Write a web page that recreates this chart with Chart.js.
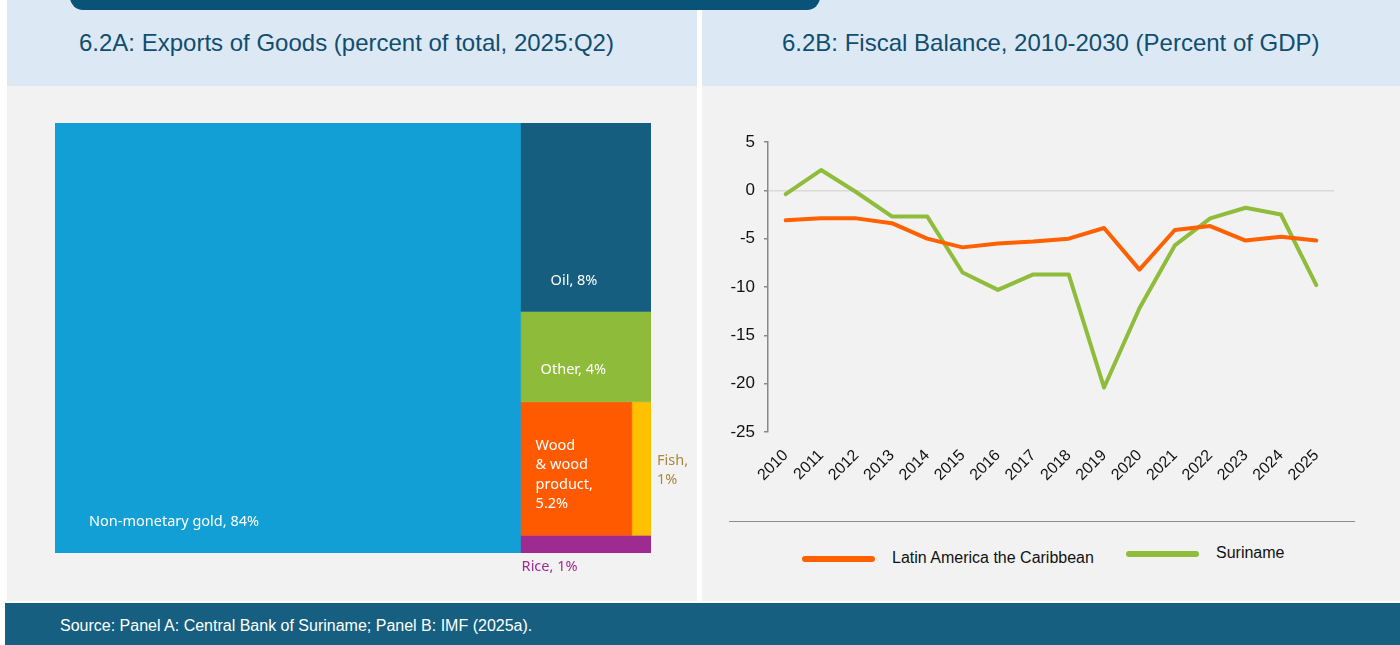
<!DOCTYPE html>
<html>
<head>
<meta charset="utf-8">
<script src="https://cdn.jsdelivr.net/npm/chart.js@4.4.0/dist/chart.umd.min.js"></script>
<style>
  body { margin: 0; width: 1400px; height: 645px; background: #fff; position: relative; overflow: hidden; font-family: "Liberation Sans", Arial, sans-serif; }
  .hdr { position: absolute; top: 0; height: 86px; background: #dce9f5; }
  .panel { position: absolute; top: 86px; height: 515px; background: #f2f2f2; }
  .topbar { position: absolute; left: 70px; top: -16px; width: 750px; height: 26px; background: #0a5378; border-radius: 14px; }
  .title { position: absolute; top: 29px; font-size: 24px; color: #114d6e; white-space: nowrap; }
  .footer { position: absolute; left: 5px; top: 603px; width: 1395px; height: 42px; background: #175f80; }
  .footer span { position: absolute; left: 55px; top: 14px; font-size: 16px; color: #fff; }
  canvas { position: absolute; }
  .rule { position: absolute; left: 729px; top: 521px; width: 626px; height: 1px; background: #8c8c8c; }
  .swatch { position: absolute; height: 6px; border-radius: 3px; }
  .legtext { position: absolute; font-size: 16px; color: #111; white-space: nowrap; }
</style>
</head>
<body>
<div class="hdr" style="left:7px;width:690px"></div>
<div class="hdr" style="left:702px;width:698px"></div>
<div class="topbar"></div>
<div class="title" style="left:79px">6.2A: Exports of Goods (percent of total, 2025:Q2)</div>
<div class="title" style="left:782px">6.2B: Fiscal Balance, 2010-2030 (Percent of GDP)</div>
<div class="panel" style="left:7px;width:690px"></div>
<div class="panel" style="left:702px;width:698px"></div>
<canvas id="treemap" width="690" height="515" style="left:7px;top:86px"></canvas>
<canvas id="fiscal" width="698" height="430" style="left:702px;top:86px"></canvas>
<div class="rule"></div>
<div id="legend"></div>
<div class="footer"><span>Source: Panel A: Central Bank of Suriname; Panel B: IMF (2025a).</span></div>

<script>
// Panel A: exports of goods
const exportCats = ['Non-monetary gold', 'Oil', 'Other', 'Wood & wood product', 'Fish', 'Rice'];
const exportShares = ['84%', '8%', '4%', '5.2%', '1%', '1%'];
// tile areas as drawn in the picture (percent of the box)
const exportAreas = [78.2, 9.6, 4.6, 5.8, 1.0, 0.9];
const exportColors = ['#119fd6', '#155e80', '#8fbb3a', '#ff5a00', '#ffc000', '#9e2b90'];
// rows of the right-hand column, top to bottom (indexes into exportCats)
const sideRows = [[1], [2], [3, 4], [5]];

// Panel B: fiscal balance
const years = ['2010', '2011', '2012', '2013', '2014', '2015', '2016', '2017', '2018', '2019', '2020', '2021', '2022', '2023', '2024', '2025'];
const lacBalance = [-3.1, -2.9, -2.9, -3.4, -5.0, -5.9, -5.5, -5.3, -5.0, -3.9, -8.2, -4.1, -3.7, -5.2, -4.8, -5.2];
const surBalance = [-0.4, 2.1, -0.2, -2.7, -2.7, -8.5, -10.3, -8.7, -8.7, -20.4, -12.2, -5.7, -2.9, -1.8, -2.5, -9.8];
const seriesNames = ['Latin America the Caribbean', 'Suriname'];
const seriesColors = ['#ff6000', '#8fbc3a'];

// treemap layout in a 0-100 x 0-100 box (y = 100 at top)
const total = exportAreas.reduce((a, b) => a + b, 0);
const tiles = [];
const colW = 100 * exportAreas[0] / total;
tiles[0] = { x0: 0, x1: colW, y0: 0, y1: 100 };
const restSum = total - exportAreas[0];
let rowTop = 100;
sideRows.forEach(row => {
  const rowSum = row.reduce((s, i) => s + exportAreas[i], 0);
  const h = 100 * rowSum / restSum;
  let left = colW;
  row.forEach(i => {
    const w = (100 - colW) * exportAreas[i] / rowSum;
    tiles[i] = { x0: left, x1: left + w, y0: rowTop - h, y1: rowTop };
    left += w;
  });
  rowTop -= h;
});

// label placement relative to each tile (pixels), and text colour
const labelSpots = [
  { anchor: 'bl', dx: 34, dy: -31, color: '#fff', lines: ['Non-monetary gold, 84%'] },
  { anchor: 'tl', dx: 30, dy: 158, color: '#fff', lines: ['Oil, 8%'] },
  { anchor: 'tl', dx: 20, dy: 58, color: '#fff', lines: ['Other, 4%'] },
  { anchor: 'tl', dx: 15, dy: 44, color: '#fff', lines: ['Wood', '& wood', 'product,', '5.2%'] },
  { anchor: 'tr', dx: 6, dy: 59, color: '#a8883a', lines: ['Fish,', '1%'] },
  { anchor: 'bl', dx: 1, dy: 14, color: '#9e2b90', lines: ['Rice, 1%'] }
];

const tileLabels = {
  id: 'tileLabels',
  afterDatasetsDraw(chart) {
    const { ctx, scales: { x, y } } = chart;
    ctx.save();
    ctx.font = '14.5px "Noto Sans", "Open Sans", sans-serif';
    ctx.textBaseline = 'middle';
    ctx.textAlign = 'left';
    tiles.forEach((t, i) => {
      const s = labelSpots[i];
      const px0 = x.getPixelForValue(t.x0), px1 = x.getPixelForValue(t.x1);
      const pyTop = y.getPixelForValue(t.y1), pyBot = y.getPixelForValue(t.y0);
      const bx = s.anchor === 'tr' ? px1 : px0;
      const by = s.anchor === 'bl' ? pyBot : pyTop;
      ctx.fillStyle = s.color;
      s.lines.forEach((line, k) => ctx.fillText(line, bx + s.dx, by + s.dy + k * 19.5));
    });
    ctx.restore();
  }
};

new Chart(document.getElementById('treemap'), {
  type: 'scatter',
  data: {
    datasets: tiles.map((t, i) => ({
      label: exportCats[i] + ', ' + exportShares[i],
      data: [{ x: t.x0, y: t.y0 }, { x: t.x1, y: t.y0 }, { x: t.x1, y: t.y1 }, { x: t.x0, y: t.y1 }, { x: t.x0, y: t.y0 }],
      showLine: true,
      fill: 'shape',
      backgroundColor: exportColors[i],
      borderColor: exportColors[i],
      borderWidth: 0.5,
      pointRadius: 0,
      tension: 0
    }))
  },
  options: {
    responsive: false,
    animation: false,
    events: [],
    layout: { padding: { left: 48, top: 37, right: 46, bottom: 48 } },
    plugins: { legend: { display: false }, tooltip: { enabled: false } },
    scales: {
      x: { type: 'linear', min: 0, max: 100, display: false },
      y: { type: 'linear', min: 0, max: 100, display: false }
    }
  },
  plugins: [tileLabels]
});

new Chart(document.getElementById('fiscal'), {
  type: 'line',
  data: {
    labels: years,
    datasets: [lacBalance, surBalance].map((vals, i) => ({
      label: seriesNames[i],
      data: vals,
      borderColor: seriesColors[i],
      backgroundColor: seriesColors[i],
      borderWidth: 4,
      borderCapStyle: 'round',
      borderJoinStyle: 'round',
      pointRadius: 0,
      tension: 0,
      fill: false
    }))
  },
  options: {
    responsive: false,
    animation: false,
    events: [],
    layout: { padding: { left: 0, top: 56, right: 66, bottom: 0 } },
    plugins: { legend: { display: false }, tooltip: { enabled: false } },
    scales: {
      x: {
        offset: true,
        grid: { display: false },
        border: { display: false },
        ticks: { minRotation: 45, maxRotation: 45, color: '#111', padding: 6, font: { family: '"Liberation Sans", Arial, sans-serif', size: 16 } },
        afterFit: s => { s.height = 84; }
      },
      y: {
        min: -25,
        max: 5,
        ticks: { stepSize: 5, color: '#111', padding: 9, font: { family: '"Liberation Sans", Arial, sans-serif', size: 17 } },
        grid: {
          color: c => (c.tick && c.tick.value === 0 ? '#d9d9d9' : 'rgba(0,0,0,0)'),
          lineWidth: 1.5,
          tickColor: '#888',
          tickLength: 4
        },
        border: { display: true, color: '#888', width: 1.5 },
        afterFit: s => { s.width = 66; }
      }
    }
  }
});

// legend under the rule
const legendPos = [{ sw: 802, sy: 556, tx: 892, ty: 549 }, { sw: 1126, sy: 551, tx: 1216, ty: 544 }];
document.getElementById('legend').innerHTML = seriesNames.map((n, i) =>
  `<div class="swatch" style="left:${legendPos[i].sw}px;top:${legendPos[i].sy}px;width:73px;background:${seriesColors[i]}"></div>` +
  `<div class="legtext" style="left:${legendPos[i].tx}px;top:${legendPos[i].ty}px">${n}</div>`
).join('');
</script>
</body>
</html>
